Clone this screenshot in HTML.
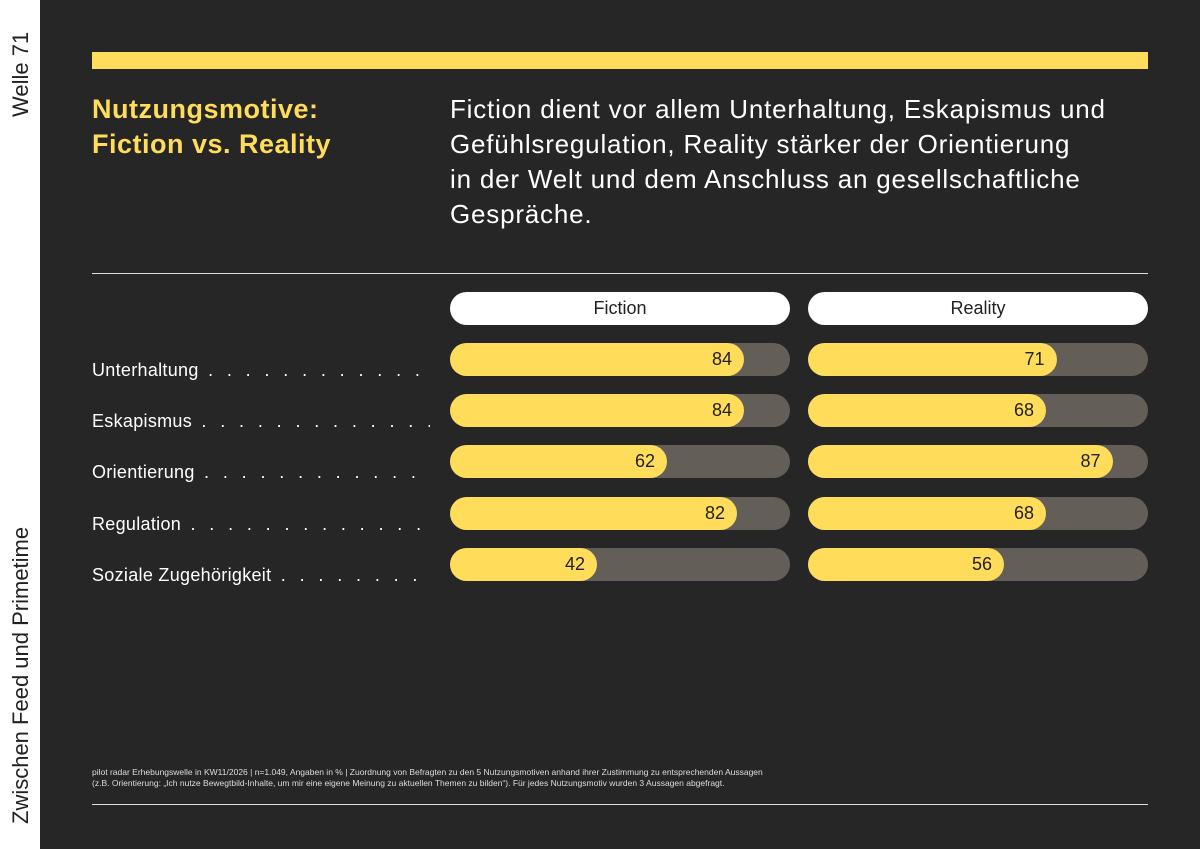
<!DOCTYPE html>
<html><head><meta charset="utf-8"><style>
body{margin:0;width:1200px;height:849px;background:#262626;font-family:"Liberation Sans",sans-serif;position:relative;overflow:hidden;color:#fff}
.abs{position:absolute}
#side{left:0;top:0;width:40px;height:849px;background:#fff}
.rot{transform:rotate(-90deg);transform-origin:left top;white-space:nowrap;color:#222;font-size:22px}
.dots{letter-spacing:4.4px}
</style></head><body>
<div class="abs" id="side">
 <div class="abs rot" style="left:8px;top:117px">Welle 71</div>
 <div class="abs rot" style="left:8px;top:824px">Zwischen Feed und Primetime</div>
</div>
<div class="abs" style="left:92px;top:52px;width:1056px;height:17px;background:#ffdc5a"></div>
<div class="abs" style="left:92px;top:92px;font-size:27px;font-weight:bold;color:#ffdc5a;line-height:35px;letter-spacing:0.5px">Nutzungsmotive:<br>Fiction vs. Reality</div>
<div class="abs" style="left:450px;top:92px;font-size:26px;line-height:35px;width:740px;letter-spacing:0.8px">Fiction dient vor allem Unterhaltung, Eskapismus und<br>Gefühlsregulation, Reality stärker der Orientierung<br>in der Welt und dem Anschluss an gesellschaftliche<br>Gespräche.</div>
<div class="abs" style="left:92px;top:273px;width:1056px;height:1px;background:#ddd"></div>
<div class="abs" style="left:92px;top:804px;width:1056px;height:1px;background:#ddd"></div>
<div class="abs" style="left:92px;top:767px;font-size:8.5px;line-height:11px;color:#ddd;white-space:nowrap">pilot radar Erhebungswelle in KW11/2026 | n=1.049, Angaben in % | Zuordnung von Befragten zu den 5 Nutzungsmotiven anhand ihrer Zustimmung zu entsprechenden Aussagen<br>(z.B. Orientierung: „Ich nutze Bewegtbild-Inhalte, um mir eine eigene Meinung zu aktuellen Themen zu bilden“). Für jedes Nutzungsmotiv wurden 3 Aussagen abgefragt.</div>
<div id="chart"></div>
<script>
const categories=["Unterhaltung","Eskapismus","Orientierung","Regulation","Soziale Zugehörigkeit"];
const fictionValues=[84,84,62,82,42];
const realityValues=[71,68,87,68,56];
const seriesNames=["Fiction","Reality"];
const chart=document.getElementById('chart');
const colX=[450,808], colW=340, barH=33;
const rowY=i=>343+i*51.2;
const xw=v=>v*3.5;
function mk(css,txt){const d=document.createElement('div');d.className='abs';d.style.cssText=css;if(txt!==undefined)d.textContent=txt;chart.appendChild(d);return d;}
seriesNames.forEach((n,s)=>{
 const h=mk(`left:${colX[s]}px;top:292px;width:${colW}px;height:33px;border-radius:17px;background:#fff;color:#222;font-size:18px;line-height:33px;text-align:center`,n);
 
 
});
categories.forEach((c,i)=>{
 const y=rowY(i);
 const l=mk(`left:92px;top:${y+17}px;width:338px;font-size:18px;white-space:nowrap;overflow:hidden;letter-spacing:0.3px`);
 
 
 l.innerHTML=c+'<span class="dots"> . . . . . . . . . . . . . . . . . . . . . . . . . . . . . . .</span>';
 [fictionValues,realityValues].forEach((arr,s)=>{
  const t=mk(`left:${colX[s]}px;top:${y}px;width:${colW}px;height:${barH}px;border-radius:17px;background:#635f58`);
  
  
  const b=mk(`left:${colX[s]}px;top:${y}px;width:${xw(arr[i])}px;height:${barH}px;border-radius:17px;background:#ffdc5a;color:#222;font-size:18px;line-height:33px;text-align:right;box-sizing:border-box;padding-right:12px`,arr[i]);
  
  
 });
});
</script>
</body></html>
